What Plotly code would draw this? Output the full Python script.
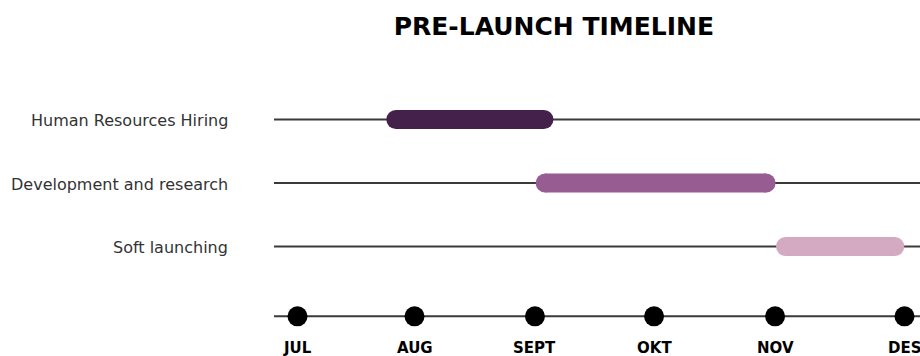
import plotly.graph_objects as go

# ---- data ----
tasks = ["Human Resources Hiring", "Development and research", "Soft launching"]
task_start = [0.81, 2.04, 4.02]   # in month units (JUL = 0)
task_end = [2.03, 3.86, 4.92]
task_colors = ["#44214a", "#975c92", "#d4a9c2"]
task_rows = [3, 2, 1]

months = ["JUL", "AUG", "SEPT", "OKT", "NOV", "DES"]
month_x = [0, 0.964, 1.956, 2.937, 3.934, 5.0]

TIMELINE_Y = -0.1
LINE_COLOR = "#3a3a3a"

fig = go.Figure()

# row guide lines + timeline line
for yv in task_rows + [TIMELINE_Y]:
    fig.add_shape(type="line", xref="paper", x0=0, x1=1, yref="y", y0=yv, y1=yv,
                  line=dict(color=LINE_COLOR, width=2), layer="below")

# task bars (round caps via end markers)
for name, s, e, c, r in zip(tasks, task_start, task_end, task_colors, task_rows):
    fig.add_trace(go.Scatter(
        x=[s, e], y=[r, r], mode="lines+markers",
        line=dict(color=c, width=19),
        marker=dict(color=c, size=19, line=dict(width=0)),
        showlegend=False, hoverinfo="skip"))
    fig.add_annotation(x=0, xref="paper", xanchor="right", xshift=-44,
                       y=r, yref="y", yshift=-1, text=name, showarrow=False,
                       font=dict(family="DejaVu Sans", size=16, color="#333333"))

# month dots
fig.add_trace(go.Scatter(
    x=month_x, y=[TIMELINE_Y] * len(month_x), mode="markers",
    marker=dict(color="black", size=20, line=dict(width=0)),
    showlegend=False, hoverinfo="skip"))

for m, xv in zip(months, month_x):
    fig.add_annotation(x=xv, y=TIMELINE_Y, yshift=-32, text=m, showarrow=False,
                       font=dict(family="DejaVu Sans", size=15, color="black", weight="bold"))

fig.update_layout(
    width=920, height=356,
    margin=dict(l=274, r=0, t=0, b=0),
    paper_bgcolor="white", plot_bgcolor="white",
    title=dict(text="PRE-LAUNCH TIMELINE", x=0.602, xanchor="center",
               y=1 - 26 / 356, yanchor="middle", yref="container",
               font=dict(family="DejaVu Sans", size=25, color="black", weight="bold")),
    xaxis=dict(range=[-0.1936, 5.1277], visible=False, fixedrange=True),
    yaxis=dict(range=[-0.724, 4.882], visible=False, fixedrange=True),
    hovermode=False,
)

fig.write_html("out.html")
